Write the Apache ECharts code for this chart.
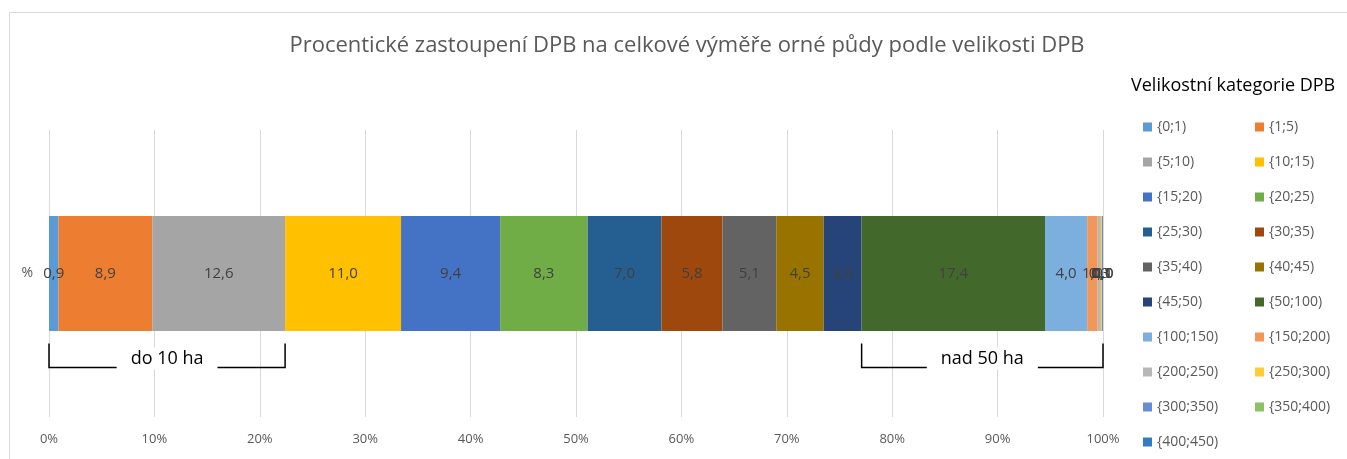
<!DOCTYPE html>
<html>
<head>
<meta charset="utf-8">
<script src="https://cdn.jsdelivr.net/npm/echarts@6/dist/echarts.min.js"></script>
<style>
html, body { margin: 0; padding: 0; background: #fff; }
#graph { width: 1347px; height: 459px; }
</style>
</head>
<body>
<div id="graph"></div>
<script>
var categories = ['%'];
var classNames = ['{0;1)', '{1;5)', '{5;10)', '{10;15)', '{15;20)', '{20;25)', '{25;30)', '{30;35)', '{35;40)', '{40;45)',
    '{45;50)', '{50;100)', '{100;150)', '{150;200)', '{200;250)', '{250;300)', '{300;350)', '{350;400)', '{400;450)'];
var shares = [0.9, 8.9, 12.6, 11.0, 9.4, 8.3, 7.0, 5.8, 5.1, 4.5, 3.6, 17.4, 4.0, 1.0, 0.3, 0.1, 0.1, 0.0, 0.0];
var colors = ['#5B9BD5', '#ED7D31', '#A5A5A5', '#FFC000', '#4472C4', '#70AD47', '#255E91', '#9E480E', '#636363', '#997300',
    '#264478', '#43682B', '#7CAFDD', '#F1975A', '#B7B7B7', '#FFCD33', '#698ED0', '#8CC168', '#327DC2'];
var tickLabels = [0, 10, 20, 30, 40, 50, 60, 70, 80, 90, 100];
var brackets = [
    { from: 0, to: 22.4, text: 'do 10 ha' },
    { from: 77.1, to: 100, text: 'nad 50 ha' }
];

var FONT = 'Open Sans';
var dom = document.getElementById('graph');
var chart = echarts.init(dom);

var series = classNames.map(function (name, i) {
    return {
        name: name,
        type: 'bar',
        stack: 'total',
        barWidth: 115,
        itemStyle: { color: colors[i] },
        label: {
            show: true,
            position: 'inside',
            color: '#404040',
            fontFamily: FONT,
            fontSize: 15,
            formatter: function (p) { return p.value.toFixed(1).replace('.', ','); }
        },
        data: [shares[i]]
    };
});

series.push({
    type: 'custom',
    name: 'brackets',
    silent: true,
    z: 1,
    data: brackets.map(function (b) { return [b.from, b.to, 0]; }),
    renderItem: function (params, api) {
        var b = brackets[params.dataIndex];
        var p1 = api.coord([api.value(0), api.value(2)]);
        var p2 = api.coord([api.value(1), api.value(2)]);
        var yTop = p1[1] + 70;
        var yBot = p1[1] + 94;
        var mid = (p1[0] + p2[0]) / 2;
        return {
            type: 'group',
            children: [
                { type: 'polyline', shape: { points: [[p1[0], yTop], [p1[0], yBot], [p2[0], yBot], [p2[0], yTop]] },
                  style: { stroke: '#000', lineWidth: 1.5, fill: null } },
                { type: 'text', x: mid, y: yBot - 9,
                  style: { text: b.text, fill: '#000', font: '18px "' + FONT + '"', align: 'center', verticalAlign: 'middle',
                           backgroundColor: '#fff', padding: [2, 14, 2, 14] } }
            ]
        };
    }
});

var legendText = { color: '#595959', fontFamily: FONT, fontSize: 14 };

chart.setOption({
    title: {
        text: 'Procentické zastoupení DPB na celkové výměře orné půdy podle velikosti DPB',
        left: 682,
        textAlign: 'center',
        top: 30,
        textStyle: { color: '#595959', fontFamily: FONT, fontSize: 22, fontWeight: 'normal' }
    },
    graphic: [
        { type: 'rect', shape: { x: 9.5, y: 12.5, width: 1400, height: 500 }, style: { fill: null, stroke: '#d9d9d9', lineWidth: 1 }, silent: true },
        { type: 'text', left: 1131, top: 77, style: { text: 'Velikostní kategorie DPB', fill: '#000', font: '18px "' + FONT + '"' } }
    ],
    legend: [
        {
            orient: 'vertical', left: 1138, top: 115, itemWidth: 9, itemHeight: 9, itemGap: 21,
            icon: 'rect', textStyle: legendText,
            data: classNames.filter(function (n, i) { return i % 2 === 0; })
        },
        {
            orient: 'vertical', left: 1250, top: 115, itemWidth: 9, itemHeight: 9, itemGap: 21,
            icon: 'rect', textStyle: legendText,
            data: classNames.filter(function (n, i) { return i % 2 === 1; })
        }
    ],
    grid: { left: 49, right: 244, top: 130, bottom: 42 },
    xAxis: {
        type: 'value',
        min: 0,
        max: 100,
        interval: 10,
        axisLine: { show: false },
        axisTick: { show: false },
        splitLine: { lineStyle: { color: '#d9d9d9', width: 1 } },
        axisLabel: {
            color: '#595959', fontFamily: FONT, fontSize: 13, margin: 16,
            formatter: function (v) { return tickLabels.indexOf(v) >= 0 ? v + '%' : ''; }
        }
    },
    yAxis: {
        type: 'category',
        data: categories,
        axisLine: { show: false },
        axisTick: { show: false },
        axisLabel: { color: '#595959', fontFamily: FONT, fontSize: 14, margin: 16 }
    },
    series: series
});
</script>
</body>
</html>
